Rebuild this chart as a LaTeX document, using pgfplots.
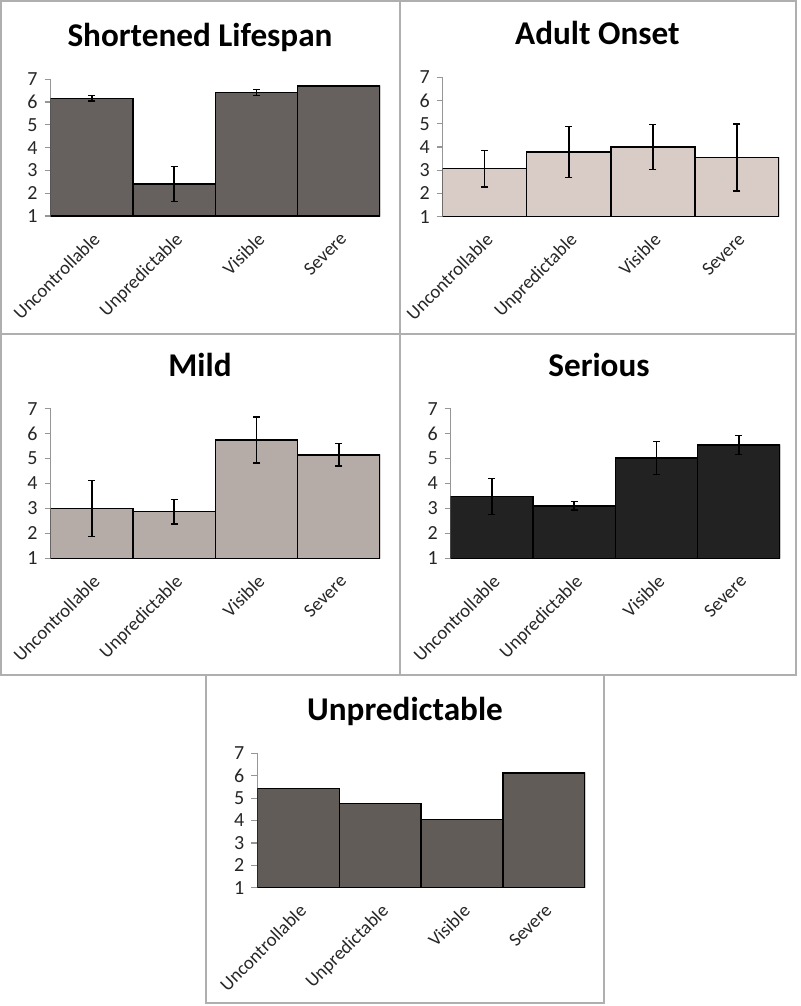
\documentclass[border=0pt]{standalone}
\usepackage{pgfplots}
\pgfplotsset{compat=1.18}
\usepackage{pgfplotstable}
\usepackage{fontspec}
\setmainfont{Carlito}
\definecolor{axgray}{RGB}{150,150,150}
\definecolor{boxgray}{RGB}{175,175,175}
\definecolor{cA}{RGB}{102,97,94}
\definecolor{cB}{RGB}{217,203,198}
\definecolor{cC}{RGB}{181,172,168}
\definecolor{cD}{RGB}{34,34,34}
\definecolor{cE}{RGB}{98,92,88}

\pgfplotstableread{
x y e
0 6.17 0.12
1 2.40 0.76
2 6.41 0.13
3 6.70 0.02
}\shortened
\pgfplotstableread{
x y e
0 3.07 0.79
1 3.78 1.10
2 4.00 0.96
3 3.55 1.44
}\adult
\pgfplotstableread{
x y e
0 3.00 1.13
1 2.87 0.50
2 5.75 0.92
3 5.15 0.45
}\mild
\pgfplotstableread{
x y e
0 3.48 0.73
1 3.10 0.17
2 5.02 0.66
3 5.55 0.38
}\serious
\pgfplotstableread{
x y
0 5.42
1 4.75
2 4.05
3 6.12
}\unpred

\pgfplotsset{
  panel/.style={
    scale only axis,
    anchor=south west,
    ybar, bar width=1, bar shift=0pt,
    xmin=-0.5, xmax=3.5, ymin=1, ymax=7,
    ytick={1,2,...,7},
    xtick={0,1,2,3},
    xticklabels={Uncontrollable,Unpredictable,Visible,Severe},
    axis x line*=bottom, axis y line*=left,
    axis line style={draw=axgray, line width=0.6pt, -},
    x tick style={draw=none},
    y tick style={draw=axgray, line width=0.6pt},
    tick align=outside, major tick length=3pt,
    xticklabel style={yshift=-3pt, rotate=45, anchor=north east, font=\fontsize{9.4}{10}\selectfont, text=black!85, inner sep=1pt},
    yticklabel style={font=\fontsize{10}{11}\selectfont, text=black!85},
    /pgf/number format/assume math mode=true,
  },
  barsty/.style={fill=#1, draw=black, line width=0.7pt},
  errsty/.style={error bars/.cd, y dir=both, y explicit,
    error bar style={line width=0.7pt, black},
    error mark options={rotate=90, mark size=1.75pt, line width=0.7pt, black}},
}

\begin{document}
\begin{tikzpicture}
\useasboundingbox (0,0) rectangle (400pt,-503pt);
% panel boxes
\draw[boxgray, line width=1pt] (0.5pt,-0.5pt) rectangle (200pt,-167pt);
\draw[boxgray, line width=1pt] (200pt,-0.5pt) rectangle (398pt,-167pt);
\draw[boxgray, line width=1pt] (0.5pt,-167pt) rectangle (200pt,-337.5pt);
\draw[boxgray, line width=1pt] (200pt,-167pt) rectangle (398pt,-337.5pt);
\draw[boxgray, line width=1pt] (103pt,-337.5pt) rectangle (302pt,-501.5pt);

% titles
\node[anchor=base, font=\bfseries\fontsize{16.6}{18}\selectfont] at (100pt,-23.3pt) {Shortened Lifespan};
\node[anchor=base, font=\bfseries\fontsize{16.6}{18}\selectfont] at (298.7pt,-22.5pt) {Adult Onset};
\node[anchor=base, font=\bfseries\fontsize{16.6}{18}\selectfont] at (100pt,-188pt) {Mild};
\node[anchor=base, font=\bfseries\fontsize{16.6}{18}\selectfont] at (299.5pt,-188pt) {Serious};
\node[anchor=base, font=\bfseries\fontsize{16.6}{18}\selectfont] at (202.5pt,-360pt) {Unpredictable};

\begin{axis}[panel, at={(25.35pt,-108pt)}, width=164.65pt, height=68.35pt]
\addplot[barsty=cA, errsty] table[x=x, y=y, y error=e] {\shortened};
\end{axis}

\begin{axis}[panel, at={(221.35pt,-108.35pt)}, width=168.15pt, height=69.7pt]
\addplot[barsty=cB, errsty] table[x=x, y=y, y error=e] {\adult};
\end{axis}

\begin{axis}[panel, at={(25.35pt,-279.15pt)}, width=164.65pt, height=74.8pt]
\addplot[barsty=cC, errsty] table[x=x, y=y, y error=e] {\mild};
\end{axis}

\begin{axis}[panel, at={(225.35pt,-279.15pt)}, width=164.65pt, height=74.8pt]
\addplot[barsty=cD, errsty] table[x=x, y=y, y error=e] {\serious};
\end{axis}

\begin{axis}[panel, at={(128.65pt,-443.85pt)}, width=163.85pt, height=67.2pt]
\addplot[barsty=cE] table[x=x, y=y] {\unpred};
\end{axis}
\end{tikzpicture}
\end{document}
